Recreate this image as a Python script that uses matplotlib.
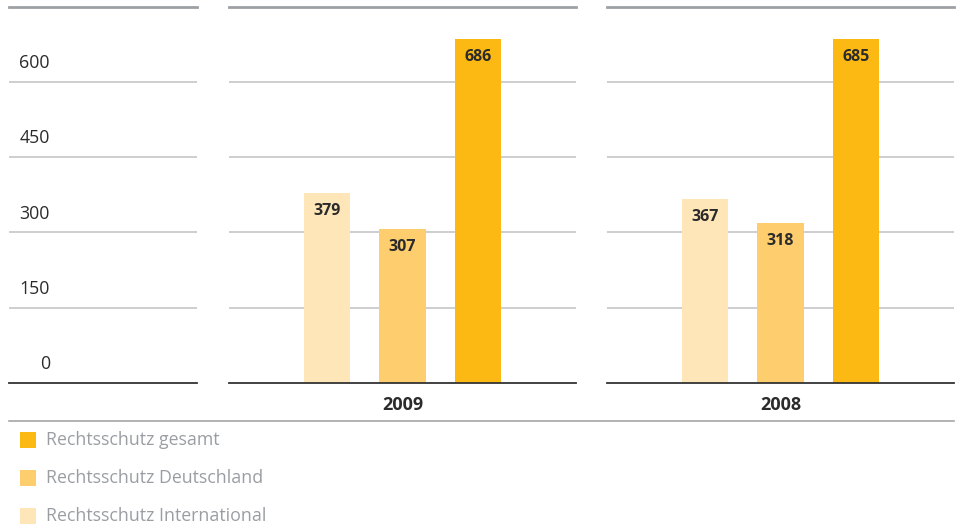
import matplotlib
matplotlib.use("Agg")
import matplotlib.pyplot as plt
from matplotlib.patches import Rectangle
from matplotlib.lines import Line2D

plt.rcParams['font.family'] = ['Open Sans', 'DejaVu Sans']

years = ["2009", "2008"]
series = ["Rechtsschutz International", "Rechtsschutz Deutschland", "Rechtsschutz gesamt"]
values_2009 = [379, 307, 686]
values_2008 = [367, 318, 685]
values = [values_2009, values_2008]
colors = ["#FFE6B8", "#FECE6E", "#FDB913"]
ticks = [0, 150, 300, 450, 600]
ymax = 750

W, H = 960, 530
fig = plt.figure(figsize=(W / 100, H / 100), dpi=100)

def fx(px):
    return px / W

def fy(py):
    return 1 - py / H

bottom = fy(383)
top = fy(6.5)
height = top - bottom

grid_c = "#c8cacd"
top_c = "#9da1a5"
base_c = "#333333"

def style_panel(ax):
    ax.set_ylim(0, ymax)
    for s in ax.spines.values():
        s.set_visible(False)
    ax.set_xticks([])
    ax.set_yticks([])
    ax.patch.set_alpha(0)
    for t in ticks[1:]:
        ax.axhline(t, color=grid_c, lw=1.3, zorder=1)
    ax.axhline(ymax, color=top_c, lw=2.0, zorder=1, clip_on=False)
    ax.axhline(0, color=base_c, lw=1.3, zorder=3, clip_on=False)

# left label panel
axl = fig.add_axes([fx(9), bottom, fx(188), height])
style_panel(axl)
axl.set_xlim(0, 1)
for t in ticks:
    axl.annotate(str(t), xy=((50 - 9) / 188, t), xycoords=('axes fraction', 'data'),
                 xytext=(0, 13.5), textcoords='offset points',
                 ha='right', va='center', fontsize=12.8, color="#2b2b2b")

panel_lefts = [229, 607]
pw = 347
for i, year in enumerate(years):
    ax = fig.add_axes([fx(panel_lefts[i]), bottom, fx(pw), height])
    style_panel(ax)
    ax.set_xlim(-1.3, 3.3)
    xs = list(range(len(series)))
    ax.bar(xs, values[i], width=0.61, color=colors, zorder=2)
    for x, v in zip(xs, values[i]):
        ax.annotate(str(v), xy=(x, v), xytext=(0, -13), textcoords='offset points',
                    ha='center', va='center', fontsize=11.5, fontweight='bold',
                    color="#2b2b2b", zorder=4)
    ax.annotate(year, xy=(0.5, 0), xycoords='axes fraction', xytext=(0, -16),
                textcoords='offset points', ha='center', va='center',
                fontsize=13, fontweight='bold', color="#2b2b2b")

# separator line
fig.add_artist(Line2D([fx(9), fx(954)], [fy(421), fy(421)], color="#a6a6a6", lw=1.2))

# legend (manual)
legend_order = [2, 1, 0]
for k, idx in enumerate(legend_order):
    cy = 440 + k * 38
    fig.add_artist(Rectangle((fx(20), fy(cy + 8)), fx(16), 16 / H,
                             facecolor=colors[idx], edgecolor='none'))
    fig.text(fx(46), fy(cy), series[idx], ha='left', va='center',
             fontsize=12.8, color="#9a9ea3")

fig.savefig("out.png", dpi=100)
